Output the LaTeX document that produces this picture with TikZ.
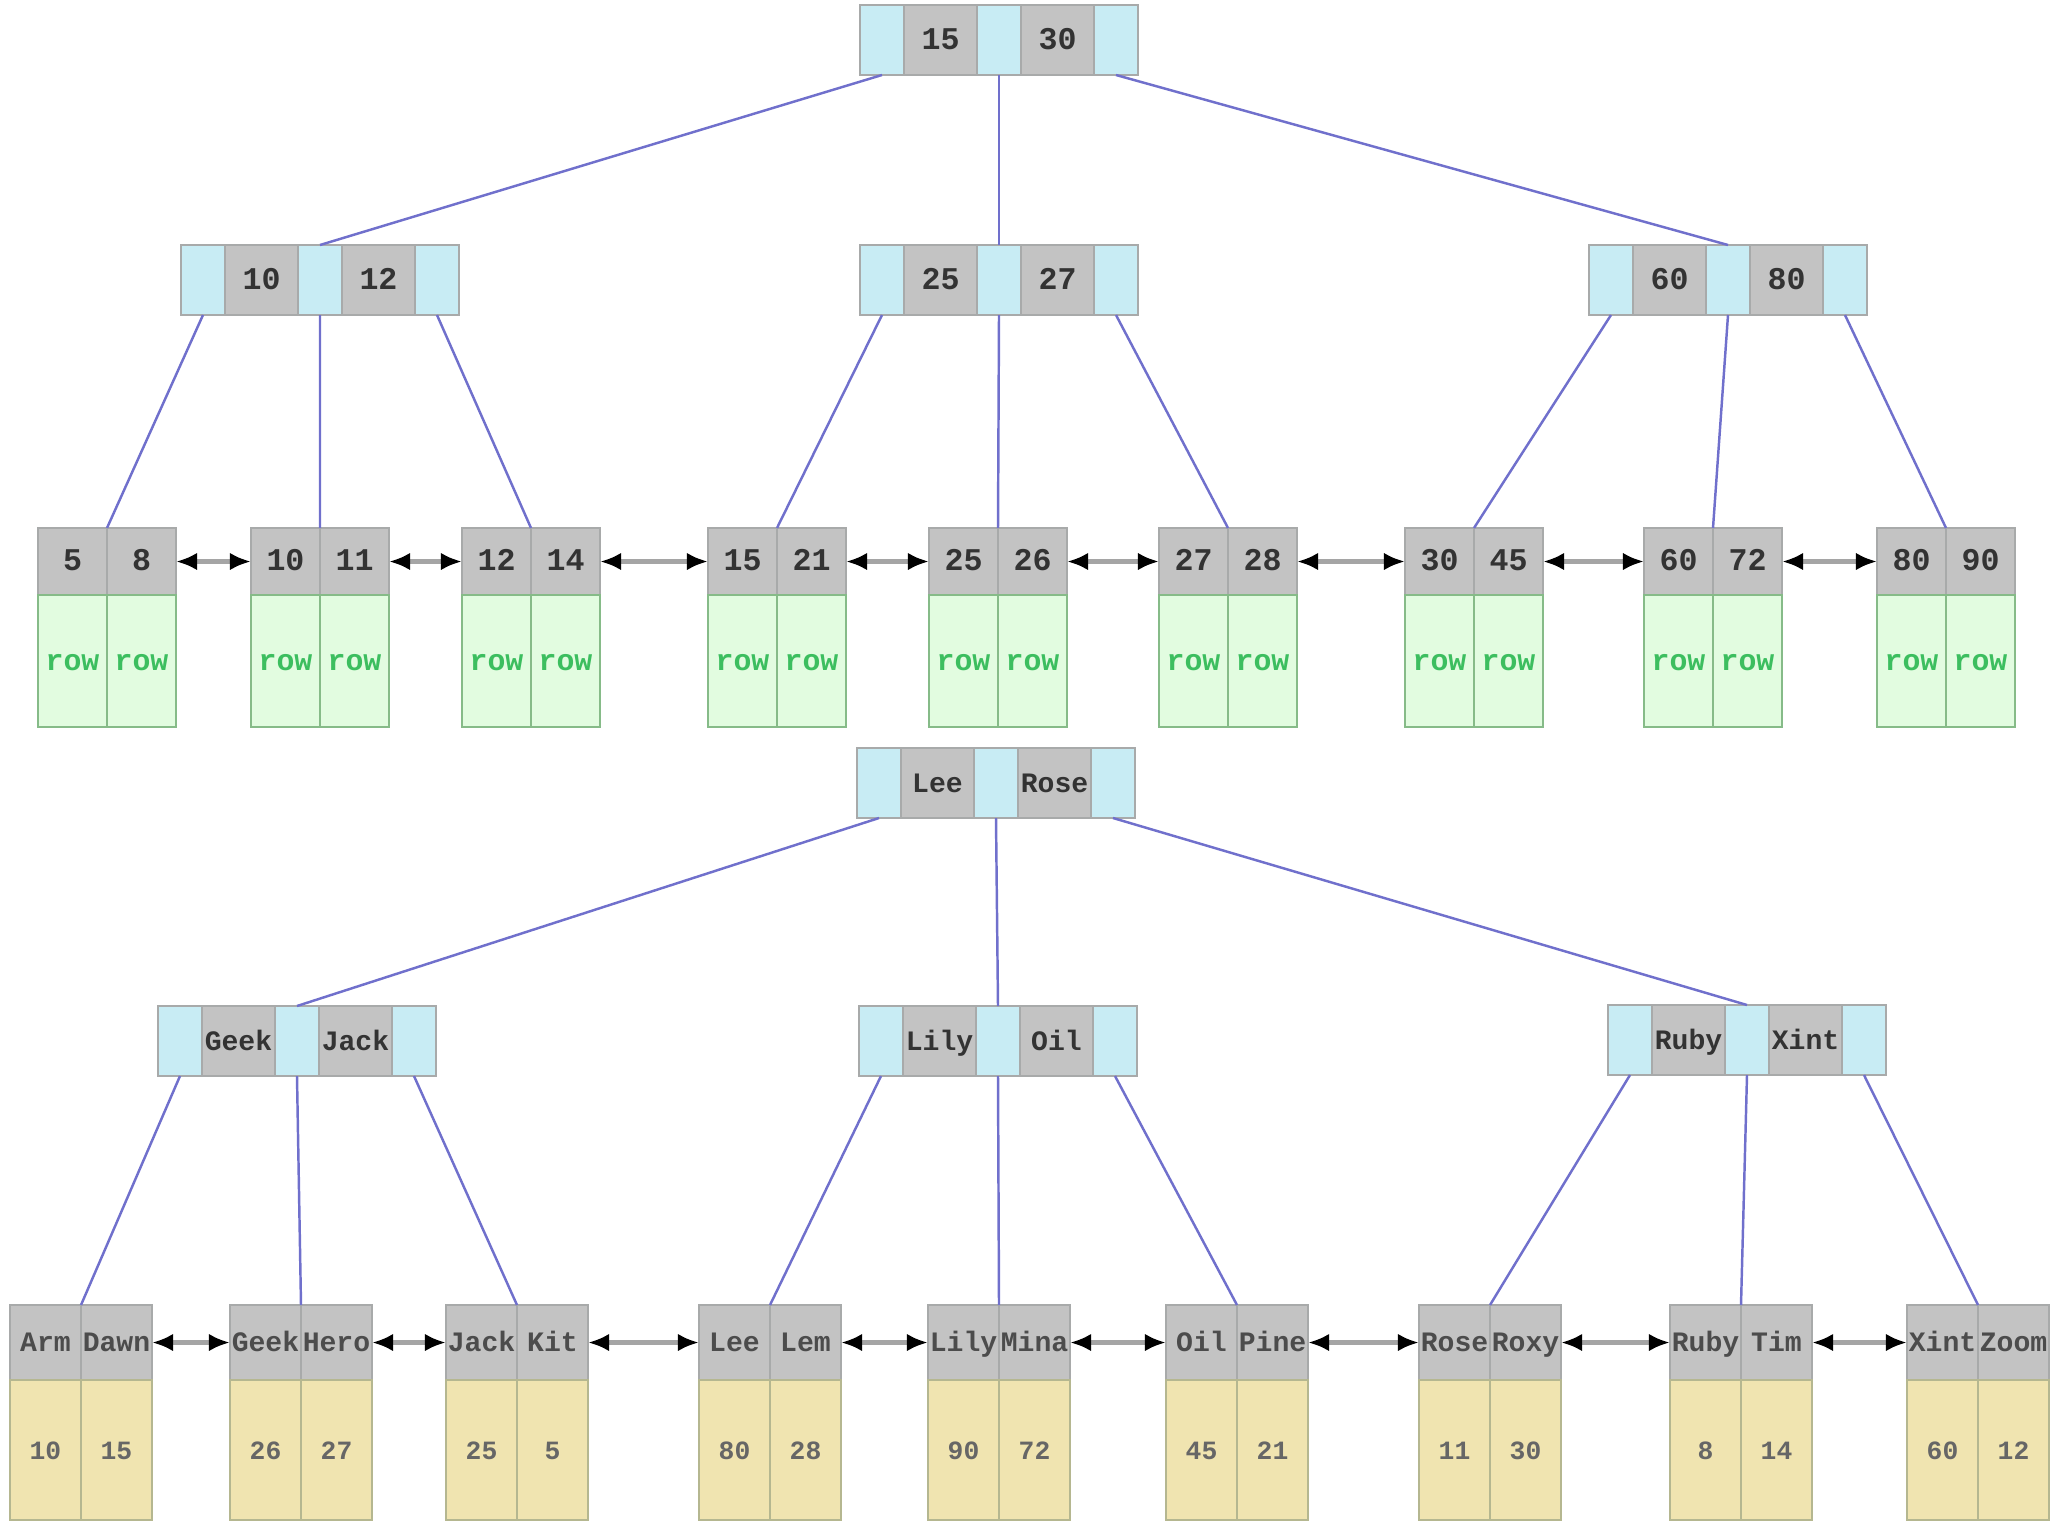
\documentclass[tikz,border=0pt]{standalone}
\usepackage{fontspec}
\setmonofont{Liberation Mono}
\usetikzlibrary{arrows.meta,positioning}
\definecolor{ptrblue}{RGB}{200,236,244}
\definecolor{keygray}{RGB}{195,195,195}
\definecolor{cellline}{RGB}{168,170,170}
\definecolor{rowgreen}{RGB}{226,252,224}
\definecolor{rowtext}{RGB}{60,190,95}
\definecolor{valyellow}{RGB}{240,228,176}
\definecolor{treeblue}{RGB}{112,112,204}
\definecolor{linkgray}{RGB}{165,165,165}

% inner node: name, top left corner, two keys
\newcommand{\innernode}[4]{%
  \node[ptrcell, anchor=north west] (#1p1) at (#2) {};
  \node[keycell, right=0pt of #1p1] (#1k1) {#3};
  \node[ptrcell, right=0pt of #1k1] (#1p2) {};
  \node[keycell, right=0pt of #1p2] (#1k2) {#4};
  \node[ptrcell, right=0pt of #1k2] (#1p3) {};}
% leaf: name, top middle, two keys, two values, key style, value style
\newcommand{\leafnode}[8]{%
  \node[#7, anchor=north east] (#1k1) at (#2) {#3};
  \node[#7, right=0pt of #1k1] (#1k2) {#4};
  \node[#8, below=0pt of #1k1] (#1d1) {#5};
  \node[#8, below=0pt of #1k2] (#1d2) {#6};}

\begin{document}
\begin{tikzpicture}[x=0.1mm, y=-0.1mm, font=\ttfamily\bfseries]
  \tikzset{cell/.style={draw=cellline, line width=0.8pt, inner sep=0pt, outer sep=0pt, text=black!80, text height=1.5ex, text depth=0.3ex},
    ptrcell/.style={cell, fill=ptrblue, minimum width=4.4mm, minimum height=7mm},
    keycell/.style={cell, fill=keygray, minimum width=7.3mm, minimum height=7mm},
    topkey/.style={cell, fill=keygray, minimum width=6.9mm, minimum height=6.7mm},
    rowcell/.style={cell, draw=cellline!80!green, fill=rowgreen, minimum width=6.9mm, minimum height=13.2mm, text=rowtext, font=\ttfamily\bfseries\fontsize{8.5}{9}\selectfont},
    namekey/.style={cell, fill=keygray, minimum width=7.1mm, minimum height=7.5mm, text=black!70},
    valcell/.style={cell, draw=cellline!85!yellow, fill=valyellow, minimum width=7.1mm, minimum height=14mm, text=black!60, font=\ttfamily\bfseries\fontsize{7.5}{8}\selectfont},
    treeline/.style={draw=treeblue, line width=0.7pt},
    link/.style={draw=linkgray, line width=1.3pt, arrows={Latex[color=black,length=6pt,width=5pt]-Latex[color=black,length=6pt,width=5pt]}}}
  \useasboundingbox (0,0) rectangle (2059,1525);

  % number index
  \begin{scope}[font=\ttfamily\bfseries\fontsize{9}{10}\selectfont]
    \innernode{idroot}{860,5}{15}{30}
    \innernode{idleft}{181,245}{10}{12}
    \innernode{idmid}{860,245}{25}{27}
    \innernode{idright}{1589,245}{60}{80}
    \leafnode{idleafa}{107,528}{5}{8}{row}{row}{topkey}{rowcell}
    \leafnode{idleafb}{320,528}{10}{11}{row}{row}{topkey}{rowcell}
    \leafnode{idleafc}{531,528}{12}{14}{row}{row}{topkey}{rowcell}
    \leafnode{idleafd}{777,528}{15}{21}{row}{row}{topkey}{rowcell}
    \leafnode{idleafe}{998,528}{25}{26}{row}{row}{topkey}{rowcell}
    \leafnode{idleaff}{1228,528}{27}{28}{row}{row}{topkey}{rowcell}
    \leafnode{idleafg}{1474,528}{30}{45}{row}{row}{topkey}{rowcell}
    \leafnode{idleafh}{1713,528}{60}{72}{row}{row}{topkey}{rowcell}
    \leafnode{idleafi}{1946,528}{80}{90}{row}{row}{topkey}{rowcell}
  \end{scope}
  \draw[treeline] (idrootp1.south) -- (idleftp2.north);
  \draw[treeline] (idrootp2.south) -- (idmidp2.north);
  \draw[treeline] (idrootp3.south) -- (idrightp2.north);
  \draw[treeline] (idleftp1.south) -- (idleafak1.north east);
  \draw[treeline] (idleftp2.south) -- (idleafbk1.north east);
  \draw[treeline] (idleftp3.south) -- (idleafck1.north east);
  \draw[treeline] (idmidp1.south) -- (idleafdk1.north east);
  \draw[treeline] (idmidp2.south) -- (idleafek1.north east);
  \draw[treeline] (idmidp3.south) -- (idleaffk1.north east);
  \draw[treeline] (idrightp1.south) -- (idleafgk1.north east);
  \draw[treeline] (idrightp2.south) -- (idleafhk1.north east);
  \draw[treeline] (idrightp3.south) -- (idleafik1.north east);
  \draw[link] (idleafak2.east) -- (idleafbk1.west);
  \draw[link] (idleafbk2.east) -- (idleafck1.west);
  \draw[link] (idleafck2.east) -- (idleafdk1.west);
  \draw[link] (idleafdk2.east) -- (idleafek1.west);
  \draw[link] (idleafek2.east) -- (idleaffk1.west);
  \draw[link] (idleaffk2.east) -- (idleafgk1.west);
  \draw[link] (idleafgk2.east) -- (idleafhk1.west);
  \draw[link] (idleafhk2.east) -- (idleafik1.west);

  % name index
  \begin{scope}[font=\ttfamily\bfseries\fontsize{8}{9}\selectfont]
    \innernode{nmroot}{857,748}{Lee}{Rose}
    \innernode{nmleft}{158,1006}{Geek}{Jack}
    \innernode{nmmid}{859,1006}{Lily}{Oil}
    \innernode{nmright}{1608,1005}{Ruby}{Xint}
    \leafnode{nmleafa}{81,1305}{Arm}{Dawn}{10}{15}{namekey}{valcell}
    \leafnode{nmleafb}{301,1305}{Geek}{Hero}{26}{27}{namekey}{valcell}
    \leafnode{nmleafc}{517,1305}{Jack}{Kit}{25}{5}{namekey}{valcell}
    \leafnode{nmleafd}{770,1305}{Lee}{Lem}{80}{28}{namekey}{valcell}
    \leafnode{nmleafe}{999,1305}{Lily}{Mina}{90}{72}{namekey}{valcell}
    \leafnode{nmleaff}{1237,1305}{Oil}{Pine}{45}{21}{namekey}{valcell}
    \leafnode{nmleafg}{1490,1305}{Rose}{Roxy}{11}{30}{namekey}{valcell}
    \leafnode{nmleafh}{1741,1305}{Ruby}{Tim}{8}{14}{namekey}{valcell}
    \leafnode{nmleafi}{1978,1305}{Xint}{Zoom}{60}{12}{namekey}{valcell}
  \end{scope}
  \draw[treeline] (nmrootp1.south) -- (nmleftp2.north);
  \draw[treeline] (nmrootp2.south) -- (nmmidp2.north);
  \draw[treeline] (nmrootp3.south) -- (nmrightp2.north);
  \draw[treeline] (nmleftp1.south) -- (nmleafak1.north east);
  \draw[treeline] (nmleftp2.south) -- (nmleafbk1.north east);
  \draw[treeline] (nmleftp3.south) -- (nmleafck1.north east);
  \draw[treeline] (nmmidp1.south) -- (nmleafdk1.north east);
  \draw[treeline] (nmmidp2.south) -- (nmleafek1.north east);
  \draw[treeline] (nmmidp3.south) -- (nmleaffk1.north east);
  \draw[treeline] (nmrightp1.south) -- (nmleafgk1.north east);
  \draw[treeline] (nmrightp2.south) -- (nmleafhk1.north east);
  \draw[treeline] (nmrightp3.south) -- (nmleafik1.north east);
  \draw[link] (nmleafak2.east) -- (nmleafbk1.west);
  \draw[link] (nmleafbk2.east) -- (nmleafck1.west);
  \draw[link] (nmleafck2.east) -- (nmleafdk1.west);
  \draw[link] (nmleafdk2.east) -- (nmleafek1.west);
  \draw[link] (nmleafek2.east) -- (nmleaffk1.west);
  \draw[link] (nmleaffk2.east) -- (nmleafgk1.west);
  \draw[link] (nmleafgk2.east) -- (nmleafhk1.west);
  \draw[link] (nmleafhk2.east) -- (nmleafik1.west);
\end{tikzpicture}
\end{document}
